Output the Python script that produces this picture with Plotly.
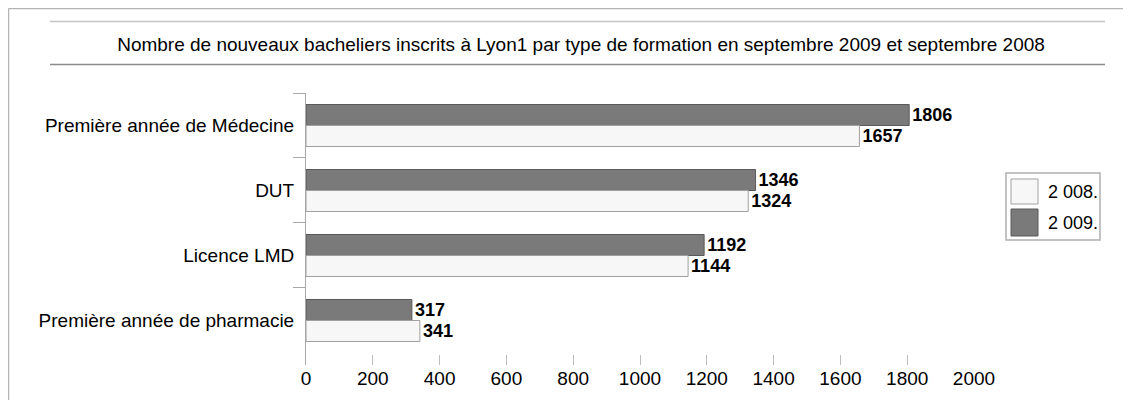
import plotly.graph_objects as go

# ---- data ----
categories = ["Première année de Médecine", "DUT", "Licence LMD", "Première année de pharmacie"]
values_2009 = [1806, 1346, 1192, 317]
values_2008 = [1657, 1324, 1144, 341]
series_names = ["2 008.", "2 009."]
x_tick_values = [0, 200, 400, 600, 800, 1000, 1200, 1400, 1600, 1800, 2000]
title_text = ("Nombre de nouveaux bacheliers inscrits à Lyon1 par type de formation "
              "en septembre 2009 et septembre 2008")

# ---- layout geometry (page pixels; the page body has an 8px margin) ----
OFF = 8
W, H = 1131 - OFF, 400 - OFF
L, R, T, B = 306, 974, 93, 365  # plot area, page coordinates


def px(x):
    return (x - L) / (R - L)


def py(y):
    return (B - y) / (B - T)


FONT = "Liberation Sans, Arial, Helvetica, sans-serif"
GRAY = "#7a7a7a"
GRAY_LINE = "#5a5a5a"
WHITE = "#f7f7f7"
WHITE_LINE = "#a0a0a0"
FS = 19

fig = go.Figure()
fig.add_bar(
    y=categories, x=values_2009, orientation="h", name=series_names[1],
    marker=dict(color=GRAY, line=dict(color=GRAY_LINE, width=1)),
    text=values_2009, textposition="outside",
    textfont=dict(family=FONT, size=18, color="black", weight="bold"),
    cliponaxis=False, constraintext="none", showlegend=False,
)
fig.add_bar(
    y=categories, x=values_2008, orientation="h", name=series_names[0],
    marker=dict(color=WHITE, line=dict(color=WHITE_LINE, width=1)),
    text=values_2008, textposition="outside",
    textfont=dict(family=FONT, size=18, color="black", weight="bold"),
    cliponaxis=False, constraintext="none", showlegend=False,
)

shapes = []
# outer frame
shapes.append(dict(type="line", xref="paper", yref="paper", x0=px(8.5), x1=px(1140), y0=py(8.5), y1=py(8.5),
                   line=dict(color="#b4b4b4", width=1.5)))
shapes.append(dict(type="line", xref="paper", yref="paper", x0=px(8.5), x1=px(8.5), y0=py(8.5), y1=py(410),
                   line=dict(color="#b4b4b4", width=1.5)))
# title rules
shapes.append(dict(type="line", xref="paper", yref="paper", x0=px(50), x1=px(1105), y0=py(21.5), y1=py(21.5),
                   line=dict(color="#c4c4c4", width=1.5)))
shapes.append(dict(type="line", xref="paper", yref="paper", x0=px(50), x1=px(1105), y0=py(64.5), y1=py(64.5),
                   line=dict(color="#8c8c8c", width=1.5)))
# manual legend
shapes.append(dict(type="rect", xref="paper", yref="paper", x0=px(1006), x1=px(1100), y0=py(173), y1=py(240),
                   line=dict(color="#b0b0b0", width=1.5), fillcolor="white"))
shapes.append(dict(type="rect", xref="paper", yref="paper", x0=px(1011), x1=px(1038), y0=py(179), y1=py(204),
                   line=dict(color=WHITE_LINE, width=1), fillcolor=WHITE))
shapes.append(dict(type="rect", xref="paper", yref="paper", x0=px(1011), x1=px(1038), y0=py(209), y1=py(236),
                   line=dict(color=GRAY_LINE, width=1), fillcolor=GRAY))

annotations = [
    dict(text=series_names[0], xref="paper", yref="paper", x=px(1046), y=py(191.5),
         xanchor="left", yanchor="middle", showarrow=False, font=dict(family=FONT, size=18, color="black")),
    dict(text=series_names[1], xref="paper", yref="paper", x=px(1046), y=py(222.5),
         xanchor="left", yanchor="middle", showarrow=False, font=dict(family=FONT, size=18, color="black")),
]

fig.update_layout(
    width=W, height=H,
    margin=dict(l=L - OFF, r=W - (R - OFF), t=T - OFF, b=H - (B - OFF), pad=0),
    paper_bgcolor="white", plot_bgcolor="white",
    barmode="group", bargap=0.354, bargroupgap=0,
    font=dict(family=FONT, size=FS, color="black"),
    title=dict(text=title_text, x=(581 - OFF) / W, xanchor="center", xref="container",
               y=1 - (44 - OFF) / H, yanchor="middle", yref="container",
               font=dict(family=FONT, size=FS, color="black")),
    showlegend=False,
    shapes=shapes,
    annotations=annotations,
    xaxis=dict(range=[0, 2000], tickvals=x_tick_values, ticktext=[str(v) for v in x_tick_values],
               showgrid=False, zeroline=False, showline=False,
               ticks="inside", ticklen=10, tickcolor="#bdbdbd", tickwidth=1,
               tickfont=dict(family=FONT, size=FS, color="black")),
    yaxis=dict(type="category", categoryorder="array", categoryarray=categories,
               range=[3.685, -0.5], showgrid=False, zeroline=False,
               showline=True, linecolor="#a8a8a8", linewidth=1,
               ticks="outside", tickson="boundaries", ticklen=12, tickcolor="#a8a8a8",
               ticklabelstandoff=7,
               tickfont=dict(family=FONT, size=FS, color="black")),
)

fig.write_html("out.html")
